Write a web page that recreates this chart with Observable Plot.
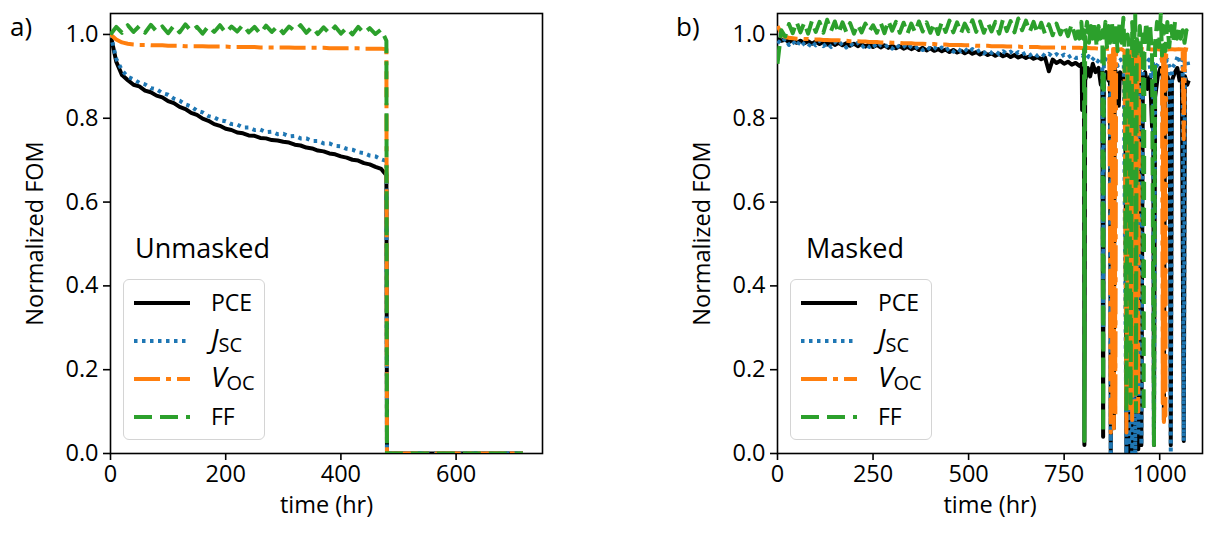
<!DOCTYPE html>
<html><head><meta charset="utf-8">
<script src="https://cdn.jsdelivr.net/npm/d3@7"></script>
<script src="https://cdn.jsdelivr.net/npm/@observablehq/plot@0.6"></script>
<style>
body{margin:0;background:#fff;font-family:"Open Sans",sans-serif;}
#root{position:relative;width:1207px;height:533px;overflow:hidden;background:#fff;}
.panel{position:absolute;top:0;}
.tag{position:absolute;font-size:26px;line-height:1;color:#000;}
.note{position:absolute;font-size:27px;line-height:1;color:#000;}
.legend{position:absolute;border:1.5px solid #d4d4d4;border-radius:6px;background:rgba(255,255,255,0.85);box-sizing:border-box;}
</style>
</head><body>
<div id="root"></div>
<script>
// ---------- Panel a (Unmasked) ----------
const aTime = [0,10,20,30,40,50,60,70,80,90,100,110,120,130,140,150,160,170,180,190,200,210,220,230,240,250,260,270,280,290,300,310,320,330,340,350,360,370,380,390,400,410,420,430,440,450,460,470,479,480,716];
const aPCE = [1.000,0.935,0.903,0.891,0.880,0.876,0.866,0.862,0.854,0.850,0.841,0.836,0.827,0.822,0.813,0.808,0.799,0.794,0.786,0.782,0.775,0.772,0.766,0.764,0.759,0.758,0.753,0.752,0.748,0.747,0.744,0.742,0.737,0.735,0.730,0.728,0.723,0.721,0.716,0.714,0.709,0.706,0.701,0.699,0.693,0.690,0.684,0.679,0.664,0,0];
const aJsc = [1.000,0.942,0.914,0.899,0.893,0.885,0.881,0.872,0.869,0.860,0.856,0.847,0.842,0.833,0.828,0.818,0.814,0.805,0.802,0.795,0.793,0.786,0.785,0.778,0.778,0.772,0.773,0.767,0.768,0.762,0.763,0.757,0.758,0.752,0.752,0.746,0.746,0.740,0.740,0.734,0.733,0.727,0.725,0.719,0.717,0.711,0.709,0.702,0.698,0,0];
const aVoc = [1.000,0.988,0.981,0.978,0.976,0.975,0.975,0.974,0.974,0.974,0.973,0.973,0.973,0.972,0.972,0.972,0.972,0.971,0.971,0.971,0.971,0.970,0.970,0.970,0.970,0.970,0.969,0.969,0.969,0.969,0.969,0.969,0.968,0.968,0.968,0.968,0.968,0.968,0.967,0.967,0.967,0.967,0.967,0.967,0.966,0.966,0.966,0.966,0.965,0,0];
const aFF = [1.000,1.018,1.004,1.022,1.006,1.020,1.004,1.023,1.007,1.019,1.003,1.021,1.005,1.024,1.008,1.018,1.002,1.020,1.006,1.022,1.004,1.019,1.007,1.023,1.005,1.018,1.002,1.021,1.006,1.020,1.003,1.019,1.008,1.022,1.004,1.018,1.001,1.017,1.003,1.019,1.002,1.016,1.000,1.018,1.003,1.015,1.001,1.012,0.985,0,0];

// ---------- Panel b (Masked) ----------
const bTime = [0,10,20,30,40,50,60,70,80,90,100,110,120,130,140,150,160,170,180,190,200,210,220,230,240,250,260,270,280,290,300,310,320,330,340,350,360,370,380,390,400,410,420,430,440,450,460,470,480,490,500,510,520,530,540,550,560,570,580,590,600,610,620,630,640,650,660,670,680,690,700,710,720,730,740,750,760,770,780];
const bPCE = [0.990,0.985,0.988,0.982,0.986,0.980,0.985,0.979,0.984,0.978,0.983,0.977,0.982,0.976,0.981,0.975,0.980,0.974,0.979,0.973,0.978,0.972,0.977,0.971,0.976,0.970,0.975,0.969,0.974,0.968,0.973,0.967,0.972,0.966,0.970,0.965,0.969,0.963,0.968,0.962,0.967,0.961,0.965,0.960,0.964,0.958,0.963,0.957,0.961,0.955,0.960,0.954,0.958,0.952,0.957,0.951,0.955,0.949,0.954,0.948,0.952,0.946,0.951,0.945,0.949,0.944,0.948,0.942,0.946,0.941,0.945,0.912,0.940,0.932,0.937,0.930,0.935,0.928,0.932];
const bJsc = [0.985,0.978,0.990,0.975,0.984,0.972,0.986,0.976,0.970,0.983,0.974,0.985,0.972,0.980,0.970,0.982,0.973,0.981,0.969,0.979,0.972,0.980,0.968,0.977,0.970,0.978,0.967,0.976,0.969,0.975,0.966,0.976,0.968,0.974,0.965,0.973,0.966,0.972,0.963,0.971,0.964,0.970,0.962,0.969,0.961,0.968,0.959,0.967,0.960,0.966,0.957,0.965,0.958,0.963,0.955,0.962,0.956,0.961,0.953,0.960,0.954,0.959,0.951,0.958,0.952,0.957,0.950,0.956,0.949,0.955,0.948,0.954,0.947,0.953,0.946,0.952,0.945,0.951,0.944];
const bVoc = [1.020,1.003,0.994,0.992,0.991,0.990,0.990,0.989,0.989,0.988,0.988,0.988,0.987,0.987,0.986,0.986,0.986,0.985,0.985,0.984,0.984,0.984,0.983,0.983,0.982,0.982,0.982,0.981,0.981,0.981,0.980,0.980,0.980,0.979,0.979,0.979,0.978,0.978,0.978,0.977,0.977,0.977,0.976,0.976,0.976,0.975,0.975,0.975,0.975,0.974,0.974,0.974,0.973,0.973,0.973,0.973,0.972,0.972,0.972,0.972,0.971,0.971,0.971,0.971,0.970,0.970,0.970,0.970,0.970,0.969,0.969,0.969,0.969,0.969,0.968,0.968,0.968,0.968,0.968];
const bFF = [0.930,1.010,0.995,1.025,1.003,1.030,1.005,1.028,1.002,1.032,1.006,1.030,1.004,1.035,1.008,1.031,1.003,1.029,1.006,1.027,1.002,1.024,1.005,1.026,1.007,1.022,1.004,1.028,1.003,1.033,1.009,1.030,1.004,1.028,1.002,1.026,1.005,1.031,1.007,1.029,1.004,1.027,1.001,1.030,1.006,1.033,1.005,1.029,1.003,1.026,1.008,1.034,1.006,1.031,1.004,1.028,1.007,1.030,1.002,1.036,1.008,1.032,1.005,1.038,1.010,1.033,1.006,1.030,1.003,1.028,1.001,1.024,0.998,1.026,1.000,1.022,0.996,1.025,0.990];
// unstable period after ~780 hr: [time, value]
const bPCEtail = [[790,0.925],[796,0.93],[797,0.82],[799,0.925],[802,0.93],[803,0.02],[805,0.89],[812,0.92],[818,0.90],[825,0.93],[832,0.91],[840,0.92],[846,0.88],[850,0.91],[852,0.04],[854,0.90],[860,0.91],[866,0.89],[870,0.90],[872,0.0],[874,0.90],[879,0.91],[880,0.06],[882,0.92],[888,0.90],[893,0.83],[896,0.91],[903,0.90],[910,0.88],[913,0.0],[916,0.85],[920,0.0],[924,0.82],[928,0.0],[932,0.86],[936,0.0],[940,0.80],[944,0.01],[948,0.88],[952,0.02],[956,0.90],[962,0.91],[968,0.87],[975,0.90],[980,0.78],[983,0.88],[985,0.02],[988,0.85],[995,0.90],[1002,0.92],[1008,0.90],[1011,0.08],[1014,0.91],[1020,0.90],[1026,0.88],[1029,0.02],[1032,0.89],[1040,0.91],[1046,0.92],[1052,0.89],[1058,0.91],[1063,0.03],[1066,0.90],[1072,0.88],[1076,0.89]];
const bJsctail = [[790,0.945],[798,0.950],[806,0.940],[814,0.948],[822,0.938],[830,0.946],[838,0.936],[846,0.944],[850,0.94],[852,0.30],[854,0.935],[862,0.945],[870,0.93],[872,0.0],[874,0.93],[882,0.94],[890,0.925],[898,0.94],[906,0.93],[913,0.0],[916,0.92],[920,0.02],[924,0.90],[928,0.0],[932,0.92],[936,0.0],[940,0.88],[944,0.05],[948,0.93],[952,0.02],[956,0.94],[964,0.93],[972,0.94],[978,0.90],[983,0.93],[985,0.02],[988,0.92],[996,0.93],[1004,0.94],[1012,0.93],[1020,0.94],[1026,0.92],[1029,0.0],[1032,0.92],[1040,0.93],[1048,0.95],[1054,0.93],[1060,0.94],[1063,0.03],[1066,0.93],[1072,0.94],[1076,0.92]];
const bVoctail = [[790,0.968],[800,0.967],[810,0.968],[820,0.967],[830,0.967],[840,0.966],[850,0.967],[860,0.966],[868,0.966],[872,0.05],[874,0.96],[876,0.10],[878,0.965],[880,0.06],[882,0.965],[884,0.09],[886,0.96],[890,0.964],[900,0.965],[908,0.96],[913,0.05],[915,0.96],[917,0.12],[919,0.95],[920,0.10],[922,0.96],[924,0.15],[926,0.96],[928,0.08],[930,0.95],[932,0.20],[934,0.96],[936,0.12],[938,0.95],[940,0.18],[942,0.96],[944,0.10],[946,0.95],[948,0.965],[955,0.965],[962,0.964],[970,0.965],[980,0.964],[990,0.965],[1000,0.964],[1006,0.965],[1008,0.12],[1009,0.96],[1011,0.075],[1013,0.96],[1015,0.09],[1017,0.965],[1022,0.964],[1030,0.965],[1040,0.964],[1050,0.965],[1060,0.964],[1063,0.75],[1066,0.965],[1076,0.963]];
const bFFtail = [[785,1.02],[790,0.99],[795,1.03],[799,0.98],[802,1.01],[803,0.03],[805,1.0],[810,1.03],[815,0.98],[820,1.02],[825,0.99],[830,1.03],[835,0.97],[840,1.02],[845,0.99],[850,1.01],[852,0.05],[854,0.99],[858,1.03],[862,0.97],[866,1.02],[870,0.98],[875,1.03],[880,0.97],[885,1.02],[890,0.96],[895,1.03],[900,0.98],[905,1.04],[908,0.96],[913,0.10],[916,1.0],[920,0.97],[924,0.12],[928,1.03],[932,0.95],[936,1.05],[938,0.10],[940,1.0],[944,0.96],[948,1.02],[952,0.95],[956,1.0],[958,0.10],[960,0.98],[965,1.03],[970,0.96],[975,1.02],[980,0.95],[985,0.02],[988,0.98],[993,1.03],[998,0.97],[1003,1.05],[1006,0.95],[1010,1.02],[1015,0.96],[1020,1.03],[1025,0.97],[1030,1.02],[1035,0.98],[1040,1.03],[1045,0.99],[1050,1.02],[1055,0.99],[1060,1.01],[1065,0.98],[1070,1.01],[1076,1.0]];

const aTicks = [0,200,400,600];
const bTicks = [0,250,500,750,1000];
const yTicks = [0,0.2,0.4,0.6,0.8,1.0];

const seriesNames = ["PCE","Jsc","Voc","FF"];
const colors = {PCE:"#000000", Jsc:"#1f77b4", Voc:"#ff7f0e", FF:"#2ca02c"};
const dashes = {PCE:null, Jsc:"3.5 4.5", Voc:"26 6 5 6", FF:"18 8"};
const LW = 4;

function rows(time, vals, tail){
  const r = time.map((t,i)=>({t, v: vals[i]}));
  if (tail) tail.forEach(([t,v])=>r.push({t,v}));
  return r;
}

function makePlot(opts){
  const marks = [
    Plot.frame({stroke:"black", strokeWidth:1.6}),
  ];
  for (const s of seriesNames) {
    marks.push(Plot.line(opts.data[s], {x:"t", y:"v", stroke: colors[s], strokeWidth: LW,
      strokeDasharray: dashes[s] || undefined, strokeLinecap:"butt", strokeLinejoin:"round", clip:true}));
  }
  marks.push(Plot.axisX({ticks: opts.xTicks, tickFormat: d3.format("d"), tickSize:7, tickPadding:5, strokeWidth:1.6,
    label:"time (hr)", labelAnchor:"center", labelArrow:"none", labelOffset:59}));
  marks.push(Plot.axisY({ticks: yTicks, tickFormat: d3.format(".1f"), tickSize:7, tickPadding:5, strokeWidth:1.6,
    label:"Normalized FOM", labelAnchor:"center", labelArrow:"none", labelOffset:84}));
  return Plot.plot({
    width: opts.width, height: 533,
    marginLeft: opts.ml, marginRight: opts.mr, marginTop: 13, marginBottom: 80,
    x: {domain: opts.xDomain},
    y: {domain: [0, 1.05]},
    style: {fontFamily: '"Open Sans", sans-serif', fontSize: "23.5px", color: "black", background: "transparent", overflow: "visible"},
    marks
  });
}

const root = document.getElementById("root");

function legendSVG(){
  const ns = "http://www.w3.org/2000/svg";
  const svg = document.createElementNS(ns, "svg");
  svg.setAttribute("width", 141); svg.setAttribute("height", 161);
  svg.style.fontFamily = '"Open Sans", sans-serif';
  const ys = [23, 61, 99, 137];
  seriesNames.forEach((s, i) => {
    const l = document.createElementNS(ns, "line");
    l.setAttribute("x1", 10); l.setAttribute("x2", 66);
    l.setAttribute("y1", ys[i]); l.setAttribute("y2", ys[i]);
    l.setAttribute("stroke", colors[s]); l.setAttribute("stroke-width", LW);
    if (dashes[s]) l.setAttribute("stroke-dasharray", dashes[s]);
    svg.appendChild(l);
    const t = document.createElementNS(ns, "text");
    t.setAttribute("x", 87); t.setAttribute("y", ys[i] + 8);
    t.setAttribute("font-size", 23);
    if (s === "Jsc" || s === "Voc") {
      const a = document.createElementNS(ns, "tspan");
      a.setAttribute("font-style", "italic"); a.setAttribute("font-size", 28);
      a.textContent = s === "Jsc" ? "J" : "V";
      const b = document.createElementNS(ns, "tspan");
      b.setAttribute("font-size", 20); b.setAttribute("dy", 3);
      b.textContent = s === "Jsc" ? "SC" : "OC";
      t.appendChild(a); t.appendChild(b);
    } else {
      t.textContent = s;
    }
    svg.appendChild(t);
  });
  return svg;
}

function addPanel(cfg){
  const p = makePlot(cfg);
  p.classList.add("panel");
  p.style.left = cfg.left + "px";
  root.appendChild(p);
  const tag = document.createElement("div");
  tag.className = "tag"; tag.textContent = cfg.tag;
  tag.style.left = cfg.tagX + "px"; tag.style.top = "13px";
  root.appendChild(tag);
  const note = document.createElement("div");
  note.className = "note"; note.textContent = cfg.note;
  note.style.left = cfg.noteX + "px"; note.style.top = "234px";
  root.appendChild(note);
  const lg = document.createElement("div");
  lg.className = "legend";
  lg.style.left = cfg.legX + "px"; lg.style.top = "279px";
  lg.style.width = "142px"; lg.style.height = "161px";
  lg.appendChild(legendSVG());
  root.appendChild(lg);
}

addPanel({
  left: 0, width: 600, ml: 110, mr: 58, xDomain: [0, 750], xTicks: aTicks,
  data: {PCE: rows(aTime, aPCE), Jsc: rows(aTime, aJsc), Voc: rows(aTime, aVoc), FF: rows(aTime, aFF)},
  tag: "a)", tagX: 10, note: "Unmasked", noteX: 135, legX: 123
});
addPanel({
  left: 640, width: 567, ml: 137, mr: 5, xDomain: [0, 1112], xTicks: bTicks,
  data: {PCE: rows(bTime, bPCE, bPCEtail), Jsc: rows(bTime, bJsc, bJsctail), Voc: rows(bTime, bVoc, bVoctail), FF: rows(bTime, bFF, bFFtail)},
  tag: "b)", tagX: 676, note: "Masked", noteX: 806, legX: 790
});
</script>
</body></html>
